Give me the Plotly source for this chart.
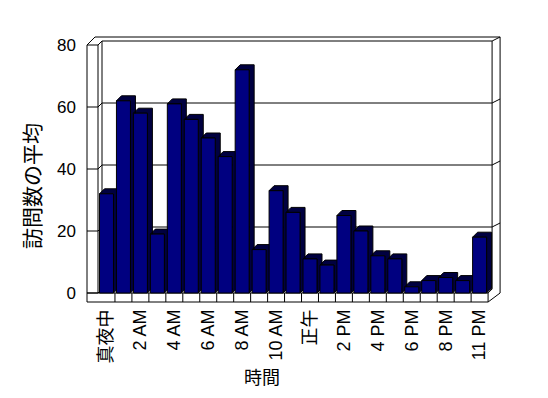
import plotly.graph_objects as go

# ---------------- data ----------------
hours = ["真夜中", "1 AM", "2 AM", "3 AM", "4 AM", "5 AM", "6 AM", "7 AM", "8 AM",
         "9 AM", "10 AM", "11 AM", "正午", "1 PM", "2 PM", "3 PM", "4 PM", "5 PM",
         "6 PM", "7 PM", "8 PM", "9 PM", "11 PM"]
visits = [32, 62, 58, 19, 61, 56, 50, 44, 72, 14, 33, 26, 11, 9, 25, 20, 12, 11,
          2, 4, 5, 4, 18]
y_ticks = [0, 20, 40, 60, 80]
label_step = 2
x_title = "時間"
y_title = "訪問数の平均"

# ---------------- layout constants (page pixels) ----------------
W, H = 548, 398
OFF = 8             # default body margin of the html page
CAT_PX = 16.96      # pixels per category
UNIT_PX = 3.1       # pixels per value unit
X0, Y0 = 98, 293    # page pixel of frame front-left (x=-0.5) and value 0
L, R, T, B = 79, 510, 30, 305   # plot area in page pixels

def X(px):
    return -0.5 + (px - X0) / CAT_PX

def Y(py):
    return (Y0 - py) / UNIT_PX

def PX(px):
    return (px - L) / (R - L)

def PY(py):
    return (B - py) / (B - T)

def dX(p):
    return p / CAT_PX

def dY(p):
    return p / UNIT_PX

n = len(hours)
xl, xr = -0.5, n - 0.5
ytop = y_ticks[-1]
xrange_ = [X(L), X(R)]
yrange_ = [Y(B), Y(T)]

WALL_D = 4      # wall depth offset (px)
WALL_T = 11     # left wall thickness
FLOOR_T = 9     # floor thickness
OUT_E = 8       # outer rim offset
BAR_D = 5       # bar depth offset
BAR_W = 14 / CAT_PX

FONT = "Liberation Sans, Arial, Noto Sans CJK JP, sans-serif"
NAVY = "#000080"
DARK = "#000040"

fig = go.Figure()

# ---------------- frame (walls / floor) ----------------
def path(pts, close=False):
    s = "M " + " L ".join(f"{x},{y}" for x, y in pts)
    return s + (" Z" if close else "")

line_style = dict(color="black", width=1)
outer = [
    (xl - dX(WALL_T), -dY(FLOOR_T)),
    (xl - dX(WALL_T), ytop),
    (xl - dX(WALL_T) + dX(OUT_E), ytop + dY(OUT_E)),
    (xr + dX(WALL_D) + dX(OUT_E), ytop + dY(OUT_E)),
    (xr + dX(WALL_D) + dX(OUT_E), 0),
    (xr, -dY(FLOOR_T)),
]
fig.add_shape(type="path", path=path(outer, True), xref="x", yref="y",
              fillcolor="white", line=line_style, layer="below")

segs = []
segs.append([(xl, 0), (xl, ytop)])
segs.append([(xl + dX(WALL_D), dY(WALL_D)), (xl + dX(WALL_D), ytop + dY(WALL_D))])
segs.append([(xr + dX(WALL_D), dY(WALL_D)), (xr + dX(WALL_D), ytop + dY(WALL_D))])
segs.append([(xl - dX(WALL_T), 0), (xl, 0), (xr, 0), (xr + dX(WALL_D), dY(WALL_D))])
segs.append([(xl, 0), (xl + dX(WALL_D), dY(WALL_D))])
segs.append([(xr, 0), (xr, -dY(FLOOR_T))])
for k in range(1, n):
    segs.append([(xl + k, 0), (xl + k, -dY(FLOOR_T))])
for v in y_ticks:
    pts = [(xl - dX(WALL_T), v), (xl, v), (xl + dX(WALL_D), v + dY(WALL_D)),
           (xr + dX(WALL_D), v + dY(WALL_D))]
    if v > 0:
        pts.append((xr + dX(WALL_D) + dX(OUT_E), v + dY(WALL_D) + dY(OUT_E - 4)))
    segs.append(pts)
for s in segs:
    fig.add_shape(type="path", path=path(s), xref="x", yref="y",
                  line=line_style, layer="below")

# ---------------- bar depth faces (top + side) ----------------
fx, fy = [], []
for i, v in enumerate(visits):
    a, b = i - BAR_W / 2, i + BAR_W / 2
    poly = [(b, 0), (b, v), (a, v), (a + dX(BAR_D), v + dY(BAR_D)),
            (b + dX(BAR_D), v + dY(BAR_D)), (b + dX(BAR_D), dY(BAR_D)), (b, 0)]
    fx += [p[0] for p in poly] + [None]
    fy += [p[1] for p in poly] + [None]
fig.add_trace(go.Scatter(x=fx, y=fy, mode="lines", fill="toself",
                         fillcolor=DARK, line=dict(color="black", width=1),
                         hoverinfo="skip", showlegend=False))

# ---------------- bar front faces ----------------
fig.add_trace(go.Bar(x=list(range(n)), y=visits, width=BAR_W,
                     marker=dict(color=NAVY, line=dict(color="black", width=1)),
                     xaxis="x2", yaxis="y2", showlegend=False,
                     hovertext=hours, hoverinfo="text+y"))

tick_idx = list(range(0, n, label_step))
fig.update_layout(
    template="none",
    width=W, height=H,
    margin=dict(l=L - OFF, r=W - (R - OFF), t=T - OFF, b=H - (B - OFF),
                pad=0, autoexpand=False),
    paper_bgcolor="white", plot_bgcolor="rgba(0,0,0,0)",
    font=dict(family=FONT, size=17, color="black"),
    showlegend=False,
    xaxis=dict(range=xrange_, showgrid=False, zeroline=False, showline=False,
               automargin=False, tickmode="array", tickvals=tick_idx,
               ticktext=[hours[i] for i in tick_idx],
               tickangle=-90, ticks="", ticklabelstandoff=0,
               tickfont=dict(size=18, family=FONT, color="black")),
    yaxis=dict(range=yrange_, showgrid=False, zeroline=False, showline=False,
               automargin=False, tickmode="array", tickvals=y_ticks, ticks="",
               ticklabelstandoff=2,
               tickfont=dict(size=17, family=FONT, color="black")),
    xaxis2=dict(overlaying="x", range=xrange_, visible=False, automargin=False),
    yaxis2=dict(overlaying="y", range=yrange_, visible=False, automargin=False),
    annotations=[
        dict(text=x_title, xref="paper", yref="paper", x=PX(262), y=PY(378),
             xanchor="center", yanchor="middle",
             showarrow=False, font=dict(size=18, family=FONT, color="black")),
        dict(text=y_title, xref="paper", yref="paper", x=PX(32), y=PY(186),
             xanchor="center", yanchor="middle",
             showarrow=False, textangle=-90,
             font=dict(size=21, family=FONT, color="black")),
    ],
)

fig.write_html("out.html")
